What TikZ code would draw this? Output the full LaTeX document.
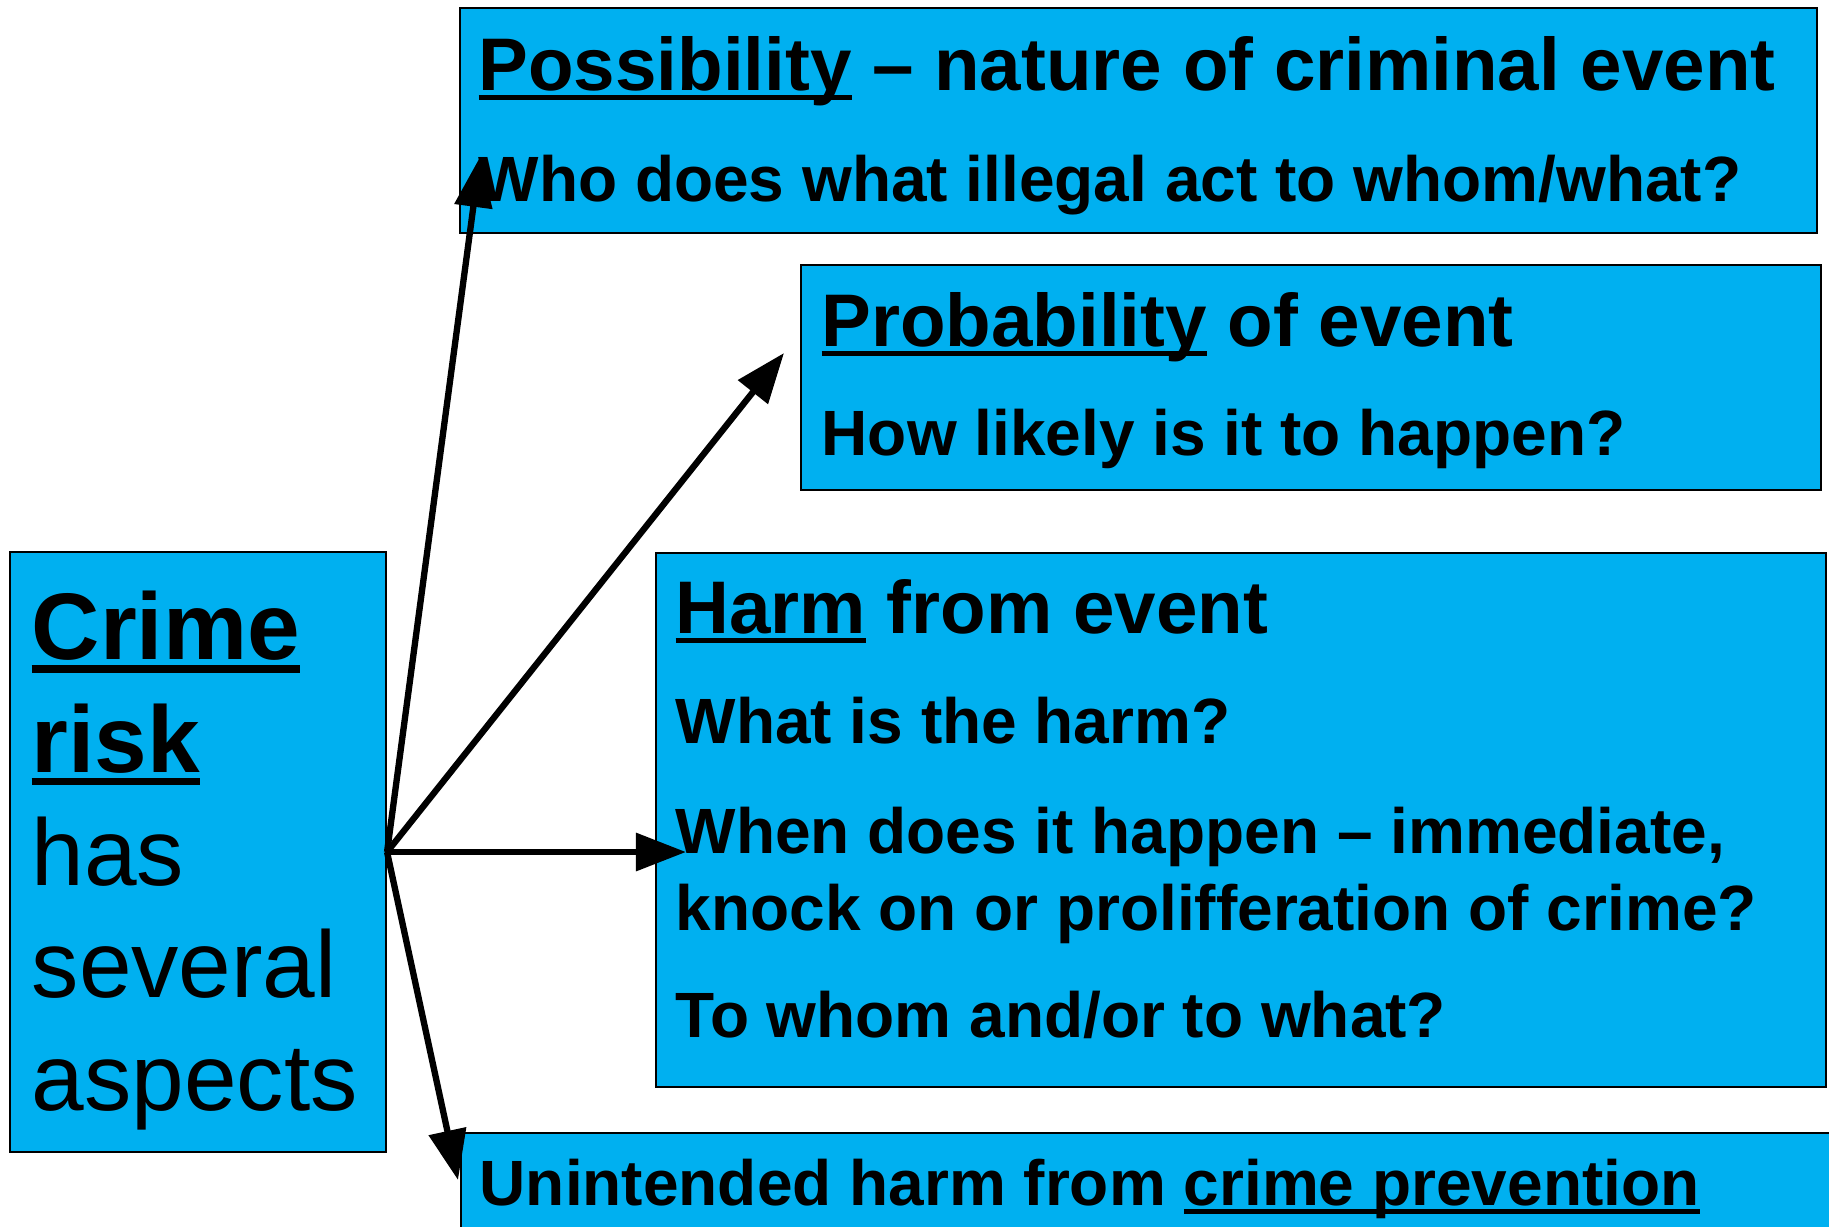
\documentclass[tikz,border=0pt]{standalone}
\usepackage{fontspec}
\setmainfont{Liberation Sans}
\usetikzlibrary{positioning, fit, arrows.meta}
\definecolor{riskblue}{HTML}{00B0F0}
\newlength{\ulwidth}
\newcommand{\ulword}[1]{\settowidth{\ulwidth}{#1}\rlap{\rule[-0.14em]{\ulwidth}{0.075em}}#1}
\tikzstyle{aspectBox}=[draw, fill=riskblue, line width=0.6pt, inner sep=0pt]
\tikzstyle{headText}=[anchor=base west, inner sep=0pt, font={\bfseries\fontsize{21.2}{25}\selectfont}]
\tikzstyle{bodyText}=[anchor=base west, inner sep=0pt, font={\bfseries\fontsize{18.2}{22}\selectfont}]
\tikzstyle{riskText}=[anchor=north west, align=left, inner sep=0pt, font={\fontsize{26.9}{32.1}\selectfont}]
\tikzstyle{aspectArrow}=[-{Triangle[length=0.5cm, width=0.37cm]}, line width=1.8pt]

\begin{document}
\begin{tikzpicture}[x=0.01cm, y=-0.01cm]

    \useasboundingbox (0,0) rectangle (1829,1226);
    \clip (0,0) rectangle (1829,1226);

    % boxes
    \node[aspectBox, fit={(460,8) (1817,233)}] (poss) {};
    \node[aspectBox, fit={(801,265) (1821,490)}] (prob) {};
    \node[aspectBox, fit={(656,553) (1826,1087)}] (harm) {};
    \node[aspectBox, fit={(461,1133) (1845,1260)}] (unint) {};
    \node[aspectBox, fit={(10,552) (386,1152)}] (crime) {};

    % texts
    \node[headText] (possHead) at (478,90) {\ulword{Possibility} – nature of criminal event};
    \node[bodyText] (possBody) at (478,201) {Who does what illegal act to whom/what?};
    \node[headText] (probHead) at (821,346) {\ulword{Probability} of event};
    \node[bodyText] (probBody) at (821,455) {How likely is it to happen?};
    \node[headText] (harmHead) at (675,633) {\ulword{Harm} from event};
    \node[bodyText] (harmWhat) at (675,743) {What is the harm?};
    \node[bodyText] (harmWhen) at (675,853) {When does it happen – immediate,};
    \node[bodyText] (harmKnock) at (675,930) {knock on or prolifferation of crime?};
    \node[bodyText] (harmWhom) at (675,1037) {To whom and/or to what?};
    \node[bodyText] (unintText) at (479,1205) {Unintended harm from \ulword{crime prevention}};
    \node[riskText] (crimeText) at (31,590) {\textbf{\ulword{Crime}}\\\textbf{\ulword{risk}}\\has\\several\\aspects};

    % arrows
    \coordinate (tipPoss) at (480,157);
    \coordinate (tipProb) at (784,353);
    \coordinate (tipHarm) at (686,852);
    \coordinate (tipUnint) at (458,1180);
    \draw[aspectArrow] (crime.east) -- (tipPoss);
    \draw[aspectArrow] (crime.east) -- (tipProb);
    \draw[aspectArrow] (crime.east) -- (tipHarm);
    \draw[aspectArrow] (crime.east) -- (tipUnint);

\end{tikzpicture}
\end{document}
